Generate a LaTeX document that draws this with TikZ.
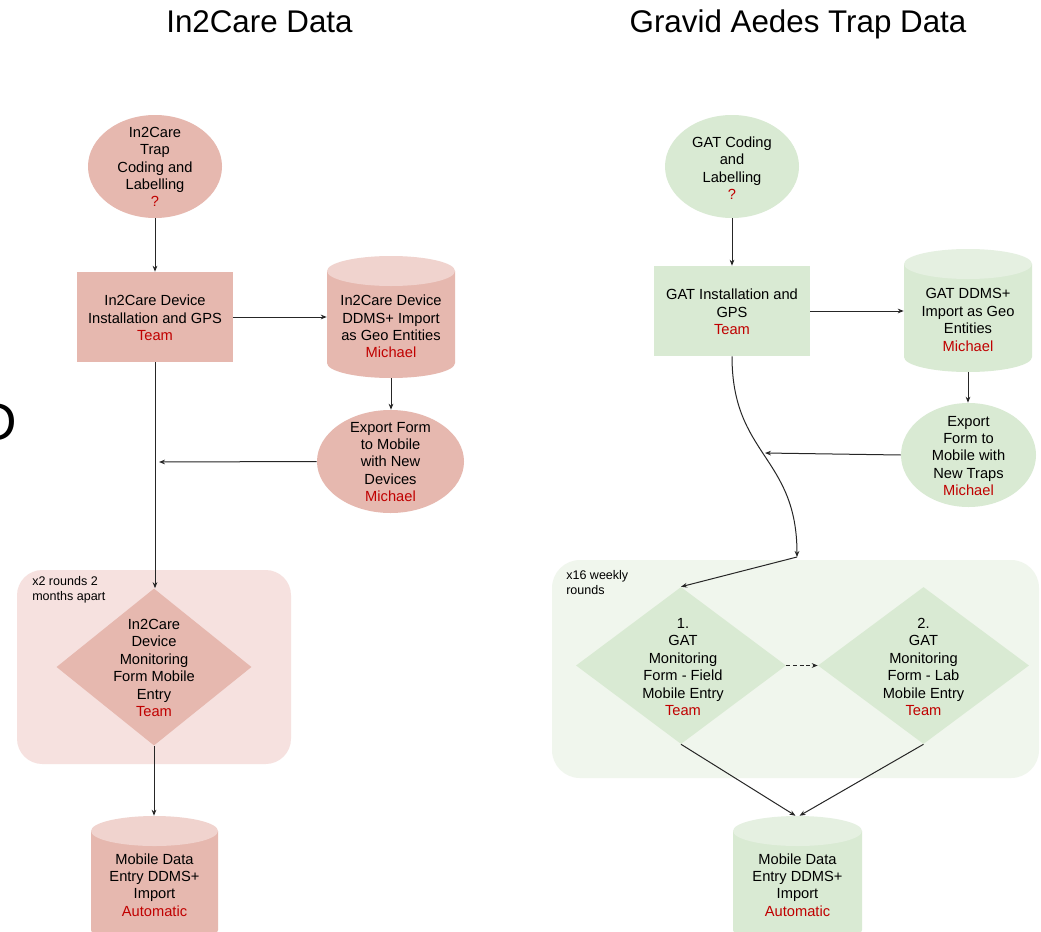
\documentclass[tikz,border=0pt]{standalone}
\usepackage{fontspec}
\setmainfont{Liberation Sans}
\usetikzlibrary{shapes.geometric,arrows.meta}
\definecolor{pinkfill}{HTML}{E6B8AF}
\definecolor{pinkcap}{HTML}{F0D3CE}
\definecolor{pinkgroup}{HTML}{F6E1DF}
\definecolor{greenfill}{HTML}{D9EAD3}
\definecolor{greencap}{HTML}{E5F0E1}
\definecolor{greengroup}{HTML}{F0F6ED}
\definecolor{whocol}{HTML}{C00000}
\definecolor{linecol}{HTML}{262626}
\newcommand\who[1]{\textcolor{whocol}{#1}}
\newcommand\drawcyl[7]{%
  \fill[#6] ({#2-#5},{#3+15}) -- ({#2-#5},{#4-15}) arc[start angle=180,end angle=360,x radius={#5*0.75pt},y radius=11.25pt] -- ({#2+#5},{#3+15}) -- cycle;
  \fill[#7] (#2,{#3+15}) ellipse[x radius={#5*0.75pt}, y radius=11.25pt];
  \node[inner sep=0,minimum width={2*#5*0.75pt},minimum height={(#4-#3)*0.75pt}] (#1) at (#2,{(#3+#4)/2}) {};
}
\tikzset{
  txt/.style={align=center, font=\fontsize{11}{13.05}\selectfont, inner sep=0},
  grouplabel/.style={align=left, font=\fontsize{9.4}{11.6}\selectfont, inner sep=0, anchor=north west},
  titletxt/.style={font=\fontsize{23.5}{28}\selectfont, inner sep=0, anchor=base},
  arr/.style={draw=linecol, line width=0.75pt, -{Stealth[length=4.5pt,width=3.5pt]}},
  ovalbox/.style={ellipse, inner sep=0},
  rectbox/.style={rectangle, inner sep=0},
  diambox/.style={diamond, inner sep=0},
}
\begin{document}
\begin{tikzpicture}[x=0.75pt,y=-0.75pt]
\useasboundingbox (0,0) rectangle (1041,931);
\clip (0,0) rectangle (1041,931);
\fill[white] (0,0) rectangle (1041,931);

% titles
\node[titletxt] (t1) at (259.5,33) {In2Care Data};
\node[titletxt] (t2) at (798,33) {Gravid Aedes Trap Data};
\node[font=\fontsize{40}{48}\selectfont, inner sep=0, anchor=base east] (dd) at (17,440) {D};

% group boxes
\fill[pinkgroup, rounded corners=19pt] (17,570) rectangle (291,764);
\fill[greengroup, rounded corners=21pt] (552,560) rectangle (1039,778);
\node[grouplabel] (g1) at (32,576) {x2 rounds 2\\months apart};
\node[grouplabel] (g2) at (566,570) {x16 weekly\\rounds};

% ---------------- left ----------------
\node[ovalbox, fill=pinkfill, minimum width=100.5pt, minimum height=77.25pt] (e1) at (155,166.5) {};
\node[txt] (e1t) at (155,167) {In2Care\\Trap\\Coding and\\Labelling\\\who{?}};

\node[rectbox, fill=pinkfill, minimum width=117pt, minimum height=67.5pt] (r1) at (155,317) {};
\node[txt] (r1t) at (155,318) {In2Care Device\\Installation and GPS\\\who{Team}};

\drawcyl{c1}{391}{256}{378}{64}{pinkfill}{pinkcap}
\node[txt] (c1t) at (391,326.5) {In2Care Device\\DDMS+ Import\\as Geo Entities\\\who{Michael}};

\node[ovalbox, fill=pinkfill, minimum width=110.25pt, minimum height=77.25pt] (e2) at (390.5,461.5) {};
\node[txt] (e2t) at (390.5,462) {Export Form\\to Mobile\\with New\\Devices\\\who{Michael}};

\node[diambox, fill=pinkfill, minimum width=146.25pt, minimum height=117.75pt] (d1) at (154,667) {};
\node[txt] (d1t) at (154,668) {In2Care\\Device\\Monitoring\\Form Mobile\\Entry\\\who{Team}};

\drawcyl{c2}{154.5}{816}{945}{63.5}{pinkfill}{pinkcap}
\node[txt] (c2t) at (154.5,885) {Mobile Data\\Entry DDMS+\\Import\\\who{Automatic}};

\coordinate (j1) at (159,462);
\draw[arr] (e1.south) -- (r1.north);
\draw[arr] (r1.east) -- (r1.east -| c1.west);
\draw[arr] (c1.south) -- (c1.south |- e2.north);
\draw[arr] (e2.west) -- (j1);
\draw[arr] (r1.south) -- (r1.south |- d1.north);
\draw[arr] (d1.south) -- (d1.south |- c2.north);

% ---------------- right ----------------
\node[ovalbox, fill=greenfill, minimum width=100.5pt, minimum height=77.25pt] (e3) at (732,166.5) {};
\node[txt] (e3t) at (732,168) {GAT Coding\\and\\Labelling\\\who{?}};

\node[rectbox, fill=greenfill, minimum width=117pt, minimum height=67.5pt] (r2) at (732,311) {};
\node[txt] (r2t) at (732,312) {GAT Installation and\\GPS\\\who{Team}};

\drawcyl{c3}{968}{249}{372}{64}{greenfill}{greencap}
\node[txt] (c3t) at (968,320) {GAT DDMS+\\Import as Geo\\Entities\\\who{Michael}};

\node[ovalbox, fill=greenfill, minimum width=101.25pt, minimum height=78pt] (e4) at (968.5,455) {};
\node[txt] (e4t) at (968.5,456) {Export\\Form to\\Mobile with\\New Traps\\\who{Michael}};

\node[diambox, fill=greenfill, minimum width=157.5pt, minimum height=117.75pt] (d2) at (681,665.5) {};
\node[txt] (d2t) at (683,667) {1.\\GAT\\Monitoring\\Form - Field\\Mobile Entry\\\who{Team}};

\node[diambox, fill=greenfill, minimum width=158.25pt, minimum height=117.75pt] (d3) at (923.5,665.5) {};
\node[txt] (d3t) at (923.5,667) {2.\\GAT\\Monitoring\\Form - Lab\\Mobile Entry\\\who{Team}};

\drawcyl{c4}{797.5}{816}{945}{64.5}{greenfill}{greencap}
\node[txt] (c4t) at (797.5,885) {Mobile Data\\Entry DDMS+\\Import\\\who{Automatic}};

\coordinate (j2) at (765,453);
\coordinate (j3) at (797,557);
\draw[arr] (e3.south) -- (e3.south |- r2.north);
\draw[arr] (r2.east) -- (r2.east -| c3.west);
\draw[arr] (c3.south) -- (c3.south |- e4.north);
\draw[arr] (e4.west) -- (j2);
\draw[arr] (r2.south) .. controls (732,456) and (797,456) .. (j3);
\draw[arr] (j3) -- (d2.north);
\draw[arr, dash pattern=on 3pt off 2pt] (d2.east) -- (d3.west);
\draw[arr] (d2.south) -- ([xshift=-1.5pt]c4.north);
\draw[arr] (d3.south) -- ([xshift=1.5pt]c4.north);
\end{tikzpicture}
\end{document}
